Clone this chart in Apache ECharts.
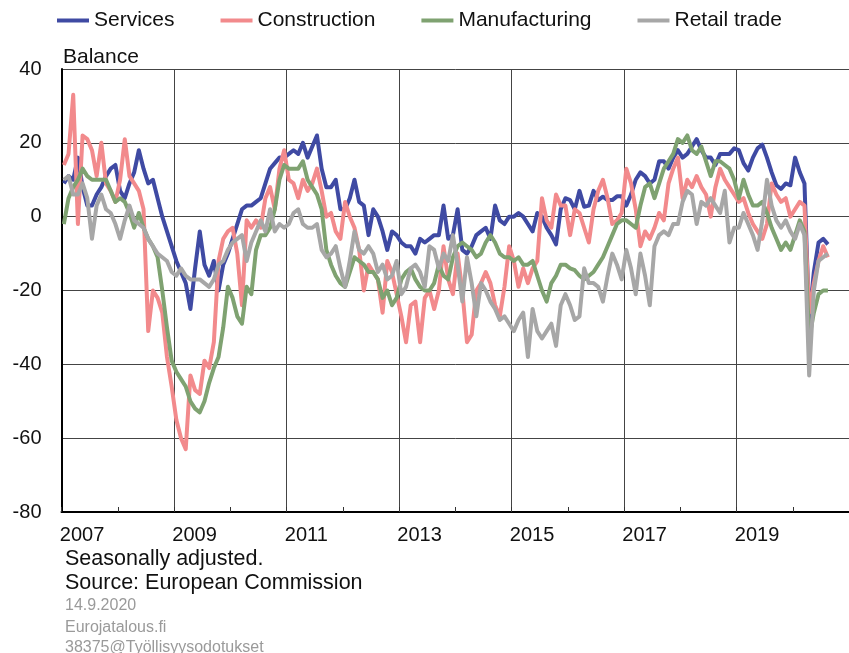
<!DOCTYPE html>
<html><head><meta charset="utf-8">
<script src="https://cdn.jsdelivr.net/npm/echarts@6/dist/echarts.min.js"></script>
<style>html,body{margin:0;padding:0;background:#fff}#c{width:849px;height:653px}</style>
</head><body><div id="c"></div>
<script>
// Monthly balances, Jan 2007 .. Aug 2020
const years = [2007,2008,2009,2010,2011,2012,2013,2014,2015,2016,2017,2018,2019,2020];
const seriesNames = ['Services','Construction','Manufacturing','Retail trade'];
const services = [
  9, 11, 10, 16, 8, 3, 3, 6, 8, 11, 13, 14,
  7, 5, 9, 12, 18, 13, 9, 10, 5, 0, -4, -8,
  -12, -15, -18, -25, -14, -4, -13, -16, -12, -20, -13, -10,
  -6, -2, 2, 3, 3, 4, 5, 9, 13, 14.5, 16, 16,
  17, 18, 17, 20, 16, 19, 22, 13, 8, 8, 10, 2,
  2, 5, 10, 4, 3, -5, 2, 0, -4, -9, -4, -5,
  -7, -8, -8, -10, -6, -7, -6, -5, -5, 3, -6, -5,
  2, -9, -10, -8, -5, -4, -3, -6, 3, -1, -2, 0,
  0, 1, 0, -2, -4, 1, 0, -3, -5, -7.5, 2, 5,
  4.5, 2, 7, 2.7, 3, 7, 4.5, 5.4, 4.5, 4.5, 5.5, 5.5,
  3, 6, 10, 12, 11, 9, 10, 15, 15, 13, 16, 18,
  16, 17, 19, 21, 18, 16, 16, 14, 17, 17, 17, 18.5,
  18, 14.5, 12.5, 16, 18.5, 19.5, 16, 12, 8.5, 7.5, 9, 8.5,
  16, 12, 9, -28, -15, -7, -6, -7.5
];
const construction = [
  14, 17, 33, -2, 22, 21, 18, 11, 20, 9, 7, 4,
  10, 21, 11, 9, 7, 2, -31, -20, -22, -26, -38, -46,
  -55, -60, -63, -43, -47, -48, -39, -41, -34, -12, -6, -4,
  -3, -10, -24, -1, -3, -1, -3, 5, 8, 2, 13, 18,
  10, 9, 5, 10, 7, 9, 13, 7, 0, 1, -4, -6,
  4, 0, -3, -9, -20, -13, -15, -17, -26, -12, -15, -21,
  -27, -34, -24, -23, -34, -22, -20, -25, -20, -8, -17, -21,
  -10, -20, -34, -32, -20, -18, -15, -18, -24, -27, -19, -8,
  -12, -19, -14, -18, -14, -12, 5, -1, -3, 6, 3, 3,
  -5, 2, 1, -3, -7, 2, 7, 10, 5, -2, -1, 1,
  13, 9, 2, -8, -4, -6, -3, 1, -1, 9, 13, 16,
  5, 10, 8, 11, 8, 6, 0, 8, 13, 10, 8, 6,
  4, 5, 1, -2, -4, -6, -2, 9, 6, 4, 5, 0,
  2, 4, 3, -26, -18, -12, -8, -11
];
const manufacturing = [
  -2, 5, 8, 10, 13, 11, 10, 10, 10, 10, 7, 4,
  5, 4, 1, -3, 1, -3, -6, -8, -11, -20, -30, -39,
  -42, -44, -46, -50, -52, -53, -50, -45, -41, -38, -30, -19,
  -22, -27, -29, -19, -21, -9, -5, -5, -3, 2, 10, 14,
  13, 13, 13, 15, 10, 8, 6, 2, -9, -13, -16, -18,
  -19, -15, -11, -12, -13, -15, -15, -17, -22, -20, -24, -22,
  -17, -15, -14, -17, -19, -20, -20, -18, -13, -16, -17, -11,
  -8, -7, -8, -9, -11, -10, -7, -5, -7, -10, -11, -11,
  -12, -11, -13, -13, -12, -16, -20, -23, -18, -16, -13, -13,
  -14, -14.5, -16, -17, -16, -15, -13, -11, -8, -5, -2, -1,
  -1, -2, -3, 3, 8, 9, 5, 9, 13, 15, 17, 21,
  20, 22, 18, 17, 19, 15, 11, 15, 15, 14, 13, 10,
  5, 10, 6, 3, 3, 4, 1, -3, -6, -9, -7, -9,
  -5, -1, -4, -33, -26, -21, -20, -20
];
const retail = [
  10, 11, 6, 6, 9, 5, -6, 3, 6, 2, 1, -2,
  -6, -1, 3, -1, -2, -3, -6, -8, -10, -11, -12, -15,
  -16, -14, -16, -17, -17, -17, -18, -19, -17, -13, -12, -9,
  -7, -6, -5, -12, -7, -4, -1, -4, 2, -4, -2, -3,
  -2, 1, 2, -2, -3, -3, -2, -9, -11, -10, -8, -14,
  -19, -12, -4, -9, -10, -8, -10, -15, -13, -17, -16, -12,
  -21, -19, -14, -13, -15, -19, -8, -9, -14, -10, -12, -5,
  -13, -23, -11, -18, -27, -18, -20, -23, -25, -28, -27, -29,
  -31, -28, -26, -38, -25, -31, -33, -31, -29, -35, -24, -21,
  -24, -28, -27, -14, -18, -18, -19, -23, -16, -10, -13, -17,
  -9, -14, -21, -10, -16, -24, -8, -5, -4, -5, -2, -2,
  4, 7, 6, -2, 4, 3, 5, 3, 1, 7, -7, -3,
  -3, 1, -2, -5, -9, -1, 10, 3, -1, -3, -1, -4,
  -6, -2, -5, -43, -20, -12, -11, -10
];
const yTicks = {min: -80, max: 40, step: 20};

const months = [];
years.forEach(y => { for (let m = 1; m <= 12; m++) months.push(y + '-' + (m < 10 ? '0' : '') + m); });

const FONT = 'Liberation Sans, Arial, sans-serif';
const colors = ['#3F4AA3', '#F28A8C', '#7FA271', '#A7A7A7'];
const dataSets = [services, construction, manufacturing, retail];

const chart = echarts.init(document.getElementById('c'), null, {renderer: 'canvas'});
chart.setOption({
  backgroundColor: '#ffffff',
  animation: false,
  textStyle: {fontFamily: FONT},
  color: colors,
  grid: {left: 61.5, top: 69, width: 796.6, height: 443, containLabel: false},
  legend: {
    left: 57, top: 10, padding: 0, itemGap: 46, itemWidth: 32, itemHeight: 4,
    icon: 'rect', data: seriesNames,
    textStyle: {fontSize: 21, color: '#111', fontFamily: FONT}
  },
  xAxis: {
    type: 'category', data: months, boundaryGap: true,
    axisLine: {show: true, onZero: false, lineStyle: {color: '#000', width: 2}},
    axisTick: {show: true, inside: true, length: 5, interval: (i) => i % 12 === 0, lineStyle: {color: '#333', width: 1}},
    axisLabel: {interval: (i) => i % 24 === 0, formatter: (v) => v.slice(0, 4), align: 'left',
      padding: [0, 0, 0, -4], fontSize: 20, color: '#111', margin: 13, fontFamily: FONT},
    splitLine: {show: true, interval: (i) => i % 24 === 0, lineStyle: {color: '#444', width: 1}}
  },
  yAxis: {
    type: 'value', min: yTicks.min, max: yTicks.max, interval: yTicks.step,
    axisLine: {show: true, lineStyle: {color: '#000', width: 2}},
    axisTick: {show: false},
    axisLabel: {fontSize: 20, color: '#111', margin: 20, fontFamily: FONT},
    splitLine: {show: true, lineStyle: {color: '#444', width: 1}}
  },
  graphic: [
    {type: 'text', left: 63, top: 47, style: {text: 'Balance', font: '21px ' + FONT, fill: '#111'}},
    {type: 'text', left: 65, top: 548.5, style: {text: 'Seasonally adjusted.', font: '21.5px ' + FONT, fill: '#111'}},
    {type: 'text', left: 65, top: 572.5, style: {text: 'Source: European Commission', font: '21.5px ' + FONT, fill: '#111'}},
    {type: 'text', left: 65, top: 597.5, style: {text: '14.9.2020', font: '16px ' + FONT, fill: '#9a9a9a'}},
    {type: 'text', left: 65, top: 619.5, style: {text: 'Eurojatalous.fi', font: '16px ' + FONT, fill: '#9a9a9a'}},
    {type: 'text', left: 65, top: 639.5, style: {text: '38375@Työllisyysodotukset', font: '16px ' + FONT, fill: '#9a9a9a'}}
  ],
  series: seriesNames.map((name, k) => ({
    name: name, type: 'line', data: dataSets[k], symbol: 'none', showSymbol: false,
    lineStyle: {width: 4, color: colors[k], join: 'round'}, itemStyle: {color: colors[k]},
    z: 2 + k
  }))
});
</script></body></html>
